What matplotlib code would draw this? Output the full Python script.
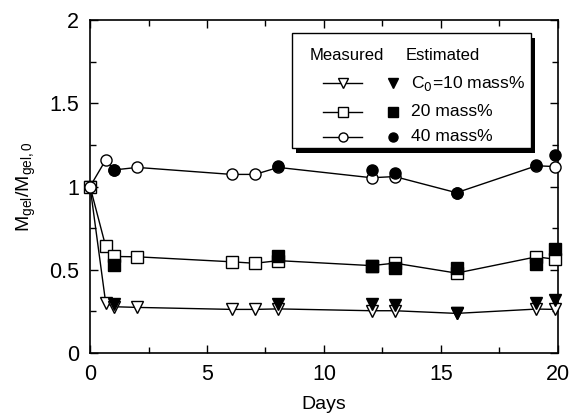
import matplotlib
matplotlib.use('Agg')
import matplotlib.pyplot as plt
from matplotlib.patches import Rectangle
from matplotlib.ticker import MultipleLocator

plt.rcParams['font.family'] = ['Liberation Sans', 'DejaVu Sans']

# measured (open markers, connected)
days_meas = [0, 0.67, 1.03, 2.02, 6.05, 7.05, 8.05, 12.04, 13.03, 15.67, 19.09, 19.9]
m10_meas = [1.0, 0.30, 0.278, 0.274, 0.262, 0.262, 0.265, 0.254, 0.254, 0.238, 0.264, 0.262]
m20_meas = [1.0, 0.64, 0.58, 0.578, 0.548, 0.539, 0.555, 0.525, 0.54, 0.48, 0.578, 0.563]
m40_meas = [1.0, 1.16, 1.10, 1.115, 1.073, 1.073, 1.115, 1.053, 1.06, 0.963, 1.125, 1.12]

# estimated (filled markers)
days_est = [1.03, 8.05, 12.04, 13.03, 15.67, 19.09, 19.9]
m10_est = [0.294, 0.294, 0.294, 0.29, 0.242, 0.302, 0.318]
m20_est = [0.53, 0.58, 0.524, 0.51, 0.51, 0.535, 0.623]
m40_est = [1.10, 1.123, 1.10, 1.08, 0.963, 1.13, 1.19]

labels = ['C$_0$=10 mass%', '20 mass%', '40 mass%']
markers = ['v', 's', 'o']

fig = plt.figure(figsize=(5.81, 4.19), dpi=100)
ax = fig.add_axes([0.155, 0.1575, 0.805, 0.7945])

for y_m, y_e, mk in zip([m10_meas, m20_meas, m40_meas], [m10_est, m20_est, m40_est], markers):
    ax.plot(days_meas, y_m, color='black', lw=1, marker=mk, ms=8,
            mfc='white', mec='black', mew=1, zorder=3, clip_on=False)
    ax.plot(days_est, y_e, ls='none', marker=mk, ms=8,
            mfc='black', mec='black', zorder=4, clip_on=False)

ax.set_xlim(0, 20)
ax.set_ylim(0, 2)
ax.xaxis.set_major_locator(MultipleLocator(5))
ax.xaxis.set_minor_locator(MultipleLocator(2.5))
ax.yaxis.set_minor_locator(MultipleLocator(0.25))
ax.set_yticks([0, 0.5, 1, 1.5, 2])
ax.set_yticklabels(['0', '0.5', '1', '1.5', '2'])
ax.tick_params(which='both', direction='in', top=True, right=True, labelsize=15.5, width=1)
ax.tick_params(which='major', length=6, pad=8)
ax.tick_params(which='minor', length=4)
for s in ax.spines.values():
    s.set_linewidth(1.2)

ax.set_xlabel('Days', fontsize=14, labelpad=8)
ax.set_ylabel(r'M$_{\mathregular{gel}}$/M$_{\mathregular{gel,0}}$', fontsize=14, labelpad=8)

# legend box with shadow
tr = ax.transAxes
bx, by, bw, bh = 0.432, 0.616, 0.51, 0.345
ax.add_patch(Rectangle((bx + 0.009, by - 0.015), bw, bh, transform=tr, facecolor='black',
                       edgecolor='none', zorder=5, clip_on=False))
ax.add_patch(Rectangle((bx, by), bw, bh, transform=tr, facecolor='white',
                       edgecolor='black', lw=1, zorder=6, clip_on=False))
ax.text(0.549, 0.895, 'Measured', transform=tr, fontsize=12, ha='center', va='center', zorder=7)
ax.text(0.754, 0.895, 'Estimated', transform=tr, fontsize=12, ha='center', va='center', zorder=7)
for yy, mk, lab in zip([0.811, 0.724, 0.649], markers, labels):
    ax.plot([0.497, 0.581], [yy, yy], transform=tr, color='black', lw=1, zorder=7)
    ax.plot([0.541], [yy], transform=tr, marker=mk, ms=6.5, mfc='white', mec='black', zorder=8)
    ax.plot([0.648], [yy], transform=tr, marker=mk, ms=6.5, mfc='black', mec='black', zorder=8)
    ax.text(0.686, yy, lab, transform=tr, fontsize=12.6, ha='left', va='center', zorder=8)

fig.savefig('out.png', dpi=100)
